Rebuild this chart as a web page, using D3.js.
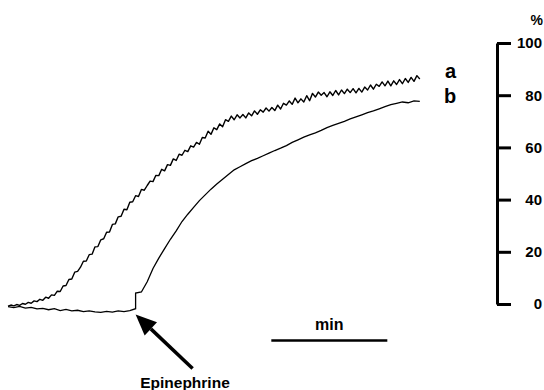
<!DOCTYPE html>
<html>
<head>
<meta charset="utf-8">
<script src="https://cdn.jsdelivr.net/npm/d3@7"></script>
<style>
  body { margin: 0; background: #fff; }
  text { font-family: "Liberation Sans", Arial, sans-serif; font-weight: bold; fill: #000; }
</style>
</head>
<body>
<script>
// trace a: % values, one every 0.025 min
const stepA = 0.025;
const traceA = [-0.8,-0.4,-0.7,-0.2,-0.5,0.2,-0.1,0.6,0.3,1.2,0.9,1.8,1.4,2.6,2.2,3.5,3.3,4.9,4.8,6.9,
  7.1,9.4,9.6,12.2,12.5,14.1,16.4,16.5,18.9,19.1,21.9,22.0,24.6,25.0,27.5,27.6,30.5,30.7,33.4,33.6,
  36.3,36.1,39.0,39.2,41.5,41.2,43.9,43.6,45.4,47.1,46.9,49.3,49.2,51.6,51.0,53.4,53.1,55.6,55.0,57.4,
  57.0,58.9,58.4,60.6,60.1,61.9,61.2,63.8,63.6,66.2,65.0,67.5,66.8,69.0,67.9,70.6,70.0,72.0,70.6,72.5,
  71.3,72.6,71.3,73.2,72.1,74.0,72.7,74.4,73.5,75.1,73.9,75.3,74.1,76.2,74.7,76.9,76.2,77.8,76.5,78.9,
  77.1,78.6,77.4,79.8,77.9,80.7,79.3,81.2,80.0,81.0,79.4,81.3,79.9,81.8,80.1,82.0,80.6,82.3,81.0,82.5,
  80.9,82.6,81.2,83.1,82.0,83.9,82.3,84.2,83.4,85.1,83.6,85.4,83.6,85.5,84.1,86.0,84.4,86.4,84.9,86.8,
  85.3,87.5,86.2];
// trace b: one value every 0.05 min, before and from epinephrine
const stepB = 0.05;
const traceBBaseline = [-1.0,-1.4,-0.9,-1.6,-1.3,-1.9,-1.7,-2.2,-1.8,-2.5,-2.1,-2.6,-2.4,-2.9,-2.6,-3.0,
  -3.2,-2.8,-3.1,-2.6,-2.9,-2.5,-1.8];
const traceBResponse = [4.2,4.6,8.5,13.6,17.6,21.2,24.8,28.0,31.6,34.4,37.0,39.6,41.8,44.0,46.0,47.8,
  49.6,51.4,52.6,53.8,54.9,55.8,56.8,57.8,58.8,59.7,60.7,61.9,62.9,63.9,64.8,65.6,66.5,67.6,68.4,69.2,
  70.0,70.9,71.7,72.5,73.3,74.0,74.8,75.6,76.4,76.9,77.4,77.1,77.8,77.6];
const epinephrineTime = 1.1;
const minBarStart = 2.27;
const yTicks = [0, 20, 40, 60, 80, 100];

const w = 544, h = 390;
const svg = d3.select("body").append("svg").attr("width", w).attr("height", h);

const x = d3.scaleLinear().domain([0, 3.55]).range([8, 419.8]);
const y = d3.scaleLinear().domain([0, 100]).range([304, 43]);

const ptsA = traceA.map((v, i) => [i * stepA, v]);
const ptsB = traceBBaseline.map((v, i) => [i * stepB, v])
  .concat(traceBResponse.map((v, i) => [epinephrineTime + i * stepB, v]));

const line = d3.line().x(d => x(d[0])).y(d => y(d[1]));

svg.append("path").datum(ptsA).attr("d", line)
  .attr("fill", "none").attr("stroke", "#000").attr("stroke-width", 1.4)
  .attr("stroke-linejoin", "round");
svg.append("path").datum(ptsB).attr("d", line)
  .attr("fill", "none").attr("stroke", "#000").attr("stroke-width", 1.3);

// series labels
svg.append("text").attr("x", 445).attr("y", 78).style("font-size", "20px").text("a");
svg.append("text").attr("x", 444).attr("y", 103).style("font-size", "20px").text("b");

// right axis
const axis = d3.axisRight(y).tickValues(yTicks).tickSize(14).tickSizeOuter(0);
const gAxis = svg.append("g").attr("transform", "translate(497,0)").call(axis);
gAxis.select(".domain").attr("stroke-width", 3);
gAxis.selectAll(".tick line").attr("stroke-width", 3);
gAxis.selectAll(".tick text")
  .attr("x", 45).attr("text-anchor", "end")
  .style("font-family", "'Liberation Sans', Arial, sans-serif")
  .style("font-weight", "bold").style("font-size", "15px");
svg.append("text").attr("x", 543).attr("y", 25).attr("text-anchor", "end")
  .style("font-size", "14px").text("%");

// time scale bar
svg.append("line")
  .attr("x1", x(minBarStart)).attr("x2", x(minBarStart + 1))
  .attr("y1", 340.5).attr("y2", 340.5)
  .attr("stroke", "#000").attr("stroke-width", 2.5);
svg.append("text").attr("x", x(minBarStart + 0.5)).attr("y", 329.5)
  .attr("text-anchor", "middle").style("font-size", "16px").text("min");

// epinephrine arrow
const tipX = x(epinephrineTime), tipY = y(-4);
const tailX = tipX + 57, tailY = tipY + 54;
const ang = Math.atan2(tailY - tipY, tailX - tipX);
const headLen = 21, headW = 9;
const bx = tipX + headLen * Math.cos(ang), by = tipY + headLen * Math.sin(ang);
svg.append("line")
  .attr("x1", bx).attr("y1", by).attr("x2", tailX).attr("y2", tailY)
  .attr("stroke", "#000").attr("stroke-width", 3.5);
svg.append("path")
  .attr("d", d3.line()([
    [tipX, tipY],
    [bx + headW * Math.sin(ang), by - headW * Math.cos(ang)],
    [bx - headW * Math.sin(ang), by + headW * Math.cos(ang)]
  ]) + "Z")
  .attr("fill", "#000");
svg.append("text").attr("x", 185).attr("y", 388).attr("text-anchor", "middle")
  .style("font-size", "15.5px").text("Epinephrine");
</script>
</body>
</html>
